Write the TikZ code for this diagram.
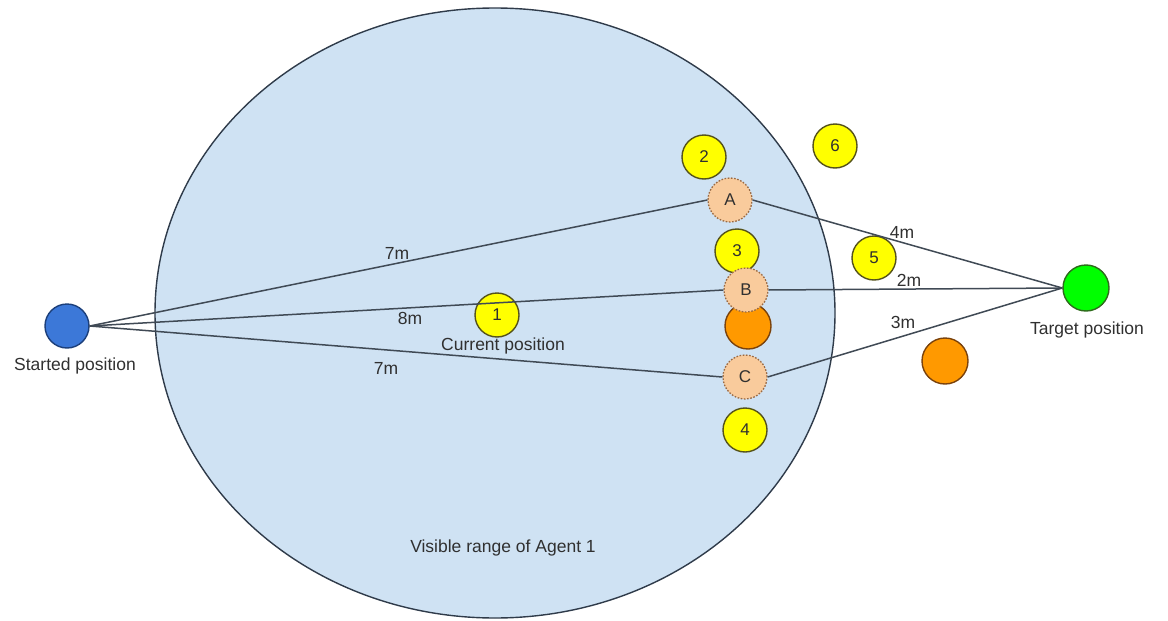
\documentclass[tikz,border=0pt]{standalone}
\usepackage{fontspec}
\setmainfont{Liberation Sans}
\usetikzlibrary{shapes.geometric}
\definecolor{rangefill}{HTML}{CFE2F3}
\definecolor{rangeedge}{HTML}{2F3B4A}
\definecolor{pathline}{HTML}{404A55}
\definecolor{txt}{HTML}{303030}
\definecolor{ylw}{HTML}{FFFF00}
\definecolor{ylwedge}{HTML}{55521A}
\definecolor{org}{HTML}{FF9900}
\definecolor{orgedge}{HTML}{7A420C}
\definecolor{cand}{HTML}{F9CB9C}
\definecolor{candedge}{HTML}{9A6A44}
\definecolor{startfill}{HTML}{3C78D8}
\definecolor{startedge}{HTML}{1C3F7A}
\definecolor{goalfill}{HTML}{00FF00}
\definecolor{goaledge}{HTML}{2E6B1C}
\tikzset{
  disc/.style={circle, inner sep=0pt, minimum size=44pt, line width=1.4pt,
    font=\fontsize{17}{17}\selectfont, text=txt},
  agent/.style={disc, fill=ylw, draw=ylwedge},
  obstacle/.style={disc, fill=org, draw=orgedge, minimum size=46pt},
  candidate/.style={disc, fill=cand, draw=candedge, line width=1.3pt,
    dash pattern=on 1.6pt off 1.6pt},
  lbl/.style={font=\fontsize{17.5}{17.5}\selectfont, text=txt, inner sep=1pt},
  route/.style={draw=pathline, line width=1.5pt},
}
\begin{document}
\begin{tikzpicture}[x=1pt,y=-1pt]
\useasboundingbox (0,0) rectangle (1168,621);
% visible range
\node[ellipse, draw=rangeedge, fill=rangefill, line width=1.4pt, inner sep=0pt,
  minimum width=680pt, minimum height=610pt] (range) at (495,313) {};
\node[lbl] (rangelbl) at (503,548) {Visible range of Agent 1};

% agent 1 at its current position (drawn under the route)
\node[agent] (a1) at (497,315) {1};
\node[lbl] (curlbl) at (503,346) {Current position};

% start and target
\node[disc, fill=startfill, draw=startedge] (start) at (67,326) {};
\node[lbl] (startlbl) at (75,366) {Started position};
\node[disc, fill=goalfill, draw=goaledge, minimum size=46pt] (target) at (1086,288) {};
\node[lbl] (targetlbl) at (1087,330) {Target position};

% other agents
\node[agent] (a2) at (704,157) {2};
\node[agent] (a3) at (737,251) {3};
\node[agent] (a4) at (745,430) {4};
\node[agent] (a5) at (874,258) {5};
\node[agent] (a6) at (835,146) {6};

% obstacles
\node[obstacle] (o1) at (748,326) {};
\node[obstacle] (o2) at (945,361) {};

% candidate waypoints
\node[candidate] (A) at (730,200) {A};
\node[candidate] (B) at (746,290) {B};
\node[candidate] (C) at (745,377) {C};

% routes
\draw[route] (start.east) -- (A.west);
\draw[route] (start.east) -- (B.west);
\draw[route] (start.east) -- (C.west);
\draw[route] (A.east) -- (target.west);
\draw[route] (B.east) -- (target.west);
\draw[route] (C.east) -- (target.west);

% distances
\node[lbl] (dA1) at (397,253) {7m};
\node[lbl] (dB1) at (410,318) {8m};
\node[lbl] (dC1) at (386,368) {7m};
\node[lbl] (dA2) at (902,232) {4m};
\node[lbl] (dB2) at (909,280) {2m};
\node[lbl] (dC2) at (903,322) {3m};
\end{tikzpicture}
\end{document}
